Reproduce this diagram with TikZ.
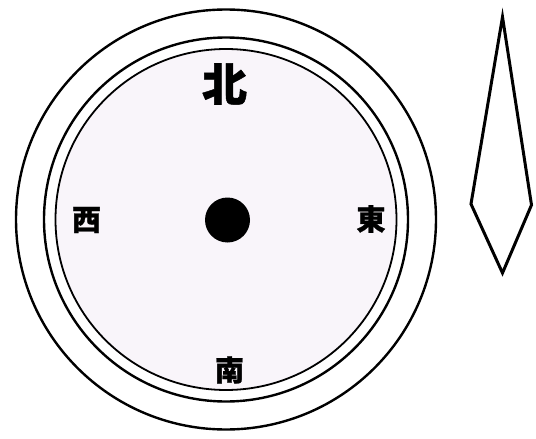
\documentclass[tikz,border=0pt]{standalone}
\usepackage{fontspec}
\newfontfamily\cjk{Noto Sans CJK JP}[BoldFeatures={FakeBold=1}]
\definecolor{dialfill}{RGB}{249,245,250}
\tikzset{
  ring/.style={draw=black, line width=2.4pt},
  label/.style={inner sep=0pt, text=black},
  bigfont/.style={font=\cjk\bfseries\fontsize{45}{45}\selectfont},
  smallfont/.style={font=\cjk\bfseries\fontsize{29}{29}\selectfont},
}
\begin{document}
\begin{tikzpicture}[x=1pt,y=-1pt]
\useasboundingbox (0,0) rectangle (536,439);
\fill[white] (0,0) rectangle (536,439);
% ring centres
\coordinate (c) at (226,219.5);
% rings
\draw[ring] (c) circle (210);
\draw[ring] (c) circle (182);
\draw[ring, line width=1.8pt, fill=dialfill] (c) circle (170.5);
% centre pivot
\node[circle, fill=black, minimum size=45pt, inner sep=0pt] (pivot) at (227.5,220) {};
% directions
\node[label, bigfont] (north) at (224.5,84) {北};
\node[label, smallfont] (west) at (86.5,220) {西};
\node[label, smallfont] (east) at (371,219) {東};
\node[label, smallfont] (south) at (229.5,370) {南};
% needle
\coordinate (ntop) at (502.5,17);
\coordinate (nleft) at (471,204);
\coordinate (nbottom) at (502.5,273);
\coordinate (nright) at (531.5,205);
\draw[line width=3pt, line join=miter, miter limit=10] (ntop) -- (nleft) -- (nbottom) -- (nright) -- cycle;
\end{tikzpicture}
\end{document}
